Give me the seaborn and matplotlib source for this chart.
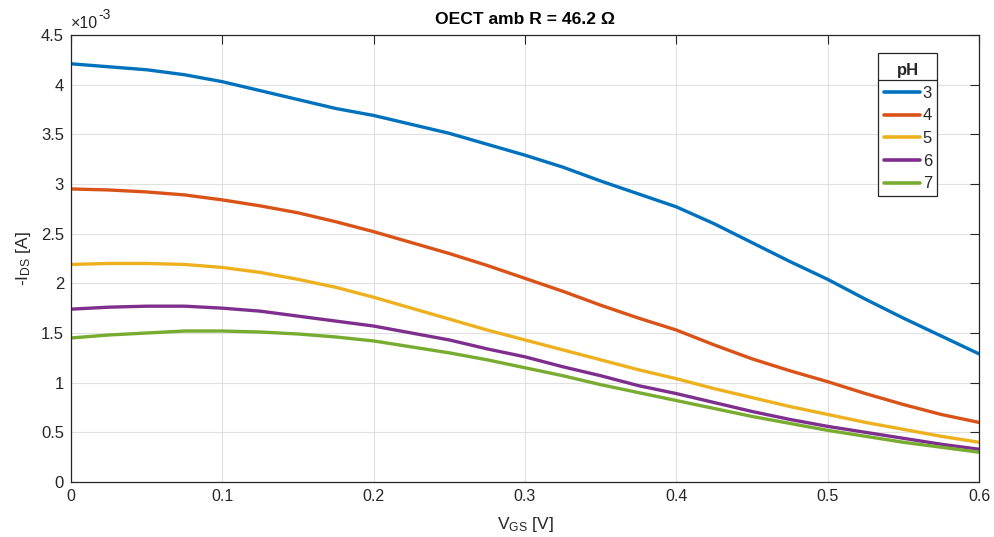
import numpy as np
import pandas as pd
import matplotlib
matplotlib.use("Agg")
import matplotlib.pyplot as plt
import seaborn as sns
from matplotlib.lines import Line2D
from matplotlib.patches import Rectangle

# ---- data (I_DS in units of 1e-3 A), V_GS in V ----
vgs = [0.000, 0.025, 0.050, 0.075, 0.100, 0.125, 0.150, 0.175, 0.200, 0.225, 0.250, 0.275,
       0.300, 0.325, 0.350, 0.375, 0.400, 0.425, 0.450, 0.475, 0.500, 0.525, 0.550, 0.575, 0.600]
ph3 = [4.21, 4.18, 4.15, 4.10, 4.03, 3.94, 3.85, 3.76, 3.69, 3.60, 3.51, 3.40,
       3.29, 3.17, 3.03, 2.90, 2.77, 2.60, 2.41, 2.22, 2.04, 1.84, 1.65, 1.47, 1.29]
ph4 = [2.95, 2.94, 2.92, 2.89, 2.84, 2.78, 2.71, 2.62, 2.52, 2.41, 2.30, 2.18,
       2.05, 1.92, 1.78, 1.65, 1.53, 1.38, 1.24, 1.12, 1.01, 0.89, 0.78, 0.68, 0.60]
ph5 = [2.19, 2.20, 2.20, 2.19, 2.16, 2.11, 2.04, 1.96, 1.86, 1.75, 1.64, 1.53,
       1.43, 1.33, 1.23, 1.13, 1.04, 0.94, 0.85, 0.76, 0.68, 0.60, 0.53, 0.46, 0.40]
ph6 = [1.74, 1.76, 1.77, 1.77, 1.75, 1.72, 1.67, 1.62, 1.57, 1.50, 1.43, 1.34,
       1.26, 1.16, 1.07, 0.97, 0.89, 0.80, 0.71, 0.63, 0.56, 0.50, 0.44, 0.38, 0.33]
ph7 = [1.45, 1.48, 1.50, 1.52, 1.52, 1.51, 1.49, 1.46, 1.42, 1.36, 1.30, 1.23,
       1.15, 1.07, 0.98, 0.90, 0.82, 0.74, 0.66, 0.59, 0.52, 0.46, 0.40, 0.35, 0.30]
ph_labels = ["3", "4", "5", "6", "7"]
colors = ["#0072BD", "#D95319", "#EDB120", "#7E2F8E", "#77AC30"]
xticks = [0, 0.1, 0.2, 0.3, 0.4, 0.5, 0.6]
xticklabels = ["0", "0.1", "0.2", "0.3", "0.4", "0.5", "0.6"]
yticks = [0, 0.5, 1, 1.5, 2, 2.5, 3, 3.5, 4, 4.5]
yticklabels = ["0", "0.5", "1", "1.5", "2", "2.5", "3", "3.5", "4", "4.5"]

series = [ph3, ph4, ph5, ph6, ph7]
df = pd.concat(
    [pd.DataFrame({"VGS": vgs, "IDS": s, "pH": lab}) for s, lab in zip(series, ph_labels)],
    ignore_index=True,
)

sns.set_theme(style="white")
plt.rcParams["font.family"] = ["Liberation Sans", "DejaVu Sans"]
plt.rcParams["mathtext.fontset"] = "custom"
plt.rcParams["mathtext.rm"] = "Liberation Sans"
plt.rcParams["mathtext.it"] = "Liberation Sans:italic"
plt.rcParams["mathtext.bf"] = "Liberation Sans:bold"

W, H = 994, 537
fig = plt.figure(figsize=(W / 100, H / 100), dpi=100)
ax = fig.add_axes([71 / W, 1 - 482 / H, 908 / W, 447 / H])

sns.lineplot(data=df, x="VGS", y="IDS", hue="pH", palette=colors,
             linewidth=2.4, ax=ax, legend=False)

ax.set_xlim(0, 0.6)
ax.set_ylim(0, 4.5)
ax.set_xticks(xticks)
ax.set_xticklabels(xticklabels)
ax.set_yticks(yticks)
ax.set_yticklabels(yticklabels)

ax.grid(True, color="#e0e0e0", linewidth=0.8)
ax.set_axisbelow(True)
for sp in ax.spines.values():
    sp.set_visible(True)
    sp.set_color("#262626")
    sp.set_linewidth(0.9)
ax.tick_params(axis="both", which="both", direction="in", length=6.5, width=0.8,
               colors="#262626", top=True, right=True, pad=5)
ax.tick_params(axis="x", labelsize=11.5)
ax.tick_params(axis="y", labelsize=12)

ax.set_title("OECT amb R = 46.2 Ω", fontsize=12.6, fontweight="bold", color="black", pad=8)
ax.set_xlabel("V$_{\\mathrm{GS}}$ [V]", fontsize=12.5, color="#262626", labelpad=8)
ax.set_ylabel("-I$_{\\mathrm{DS}}$ [A]", fontsize=12.5, color="#262626", labelpad=6)

# exponent label
t1 = ax.text(0.0, 1.008, "×10", transform=ax.transAxes, fontsize=11.5,
             color="#262626", ha="left", va="bottom")
fig.canvas.draw()
r = fig.canvas.get_renderer()
e1 = t1.get_window_extent(r)
ax.annotate("-3", xy=(e1.x1, e1.y1), xycoords="figure pixels", xytext=(0.5, -4.0),
            textcoords="offset points", fontsize=10, color="#262626",
            ha="left", va="bottom")

handles = [Line2D([0], [0], color=c, lw=2.6) for c in colors]
leg = ax.legend(handles, ph_labels, title="pH", loc="upper right",
                bbox_to_anchor=((937 - 71) / 908, (482 - 58) / 447),
                frameon=False, fontsize=12,
                title_fontproperties={"weight": "bold", "size": 12},
                handlelength=2.2, handletextpad=0.15, labelspacing=0.46,
                borderpad=0.3, borderaxespad=0)
leg.set_zorder(6)

# legend frame (white box) and separator under title
fig.canvas.draw()
lb = leg.get_window_extent(r)
tb = leg.get_title().get_window_extent(r)
inv = ax.transAxes.inverted()
(ax0, ay0) = inv.transform((lb.x0 - 1, lb.y0))
(ax1, ay1) = inv.transform((lb.x1, lb.y1 + 5))
rect = Rectangle((ax0, ay0), ax1 - ax0, ay1 - ay0, transform=ax.transAxes,
                 facecolor="white", edgecolor="#262626", linewidth=0.9,
                 zorder=5.5, clip_on=False)
ax.add_patch(rect)
ysep = tb.y0 - 2
(_, sy) = inv.transform((lb.x0, ysep))
ax.add_line(Line2D([ax0, ax1], [sy, sy], transform=ax.transAxes, color="#262626",
                   lw=0.9, zorder=5.6, clip_on=False))

fig.savefig("out.png", dpi=100)
